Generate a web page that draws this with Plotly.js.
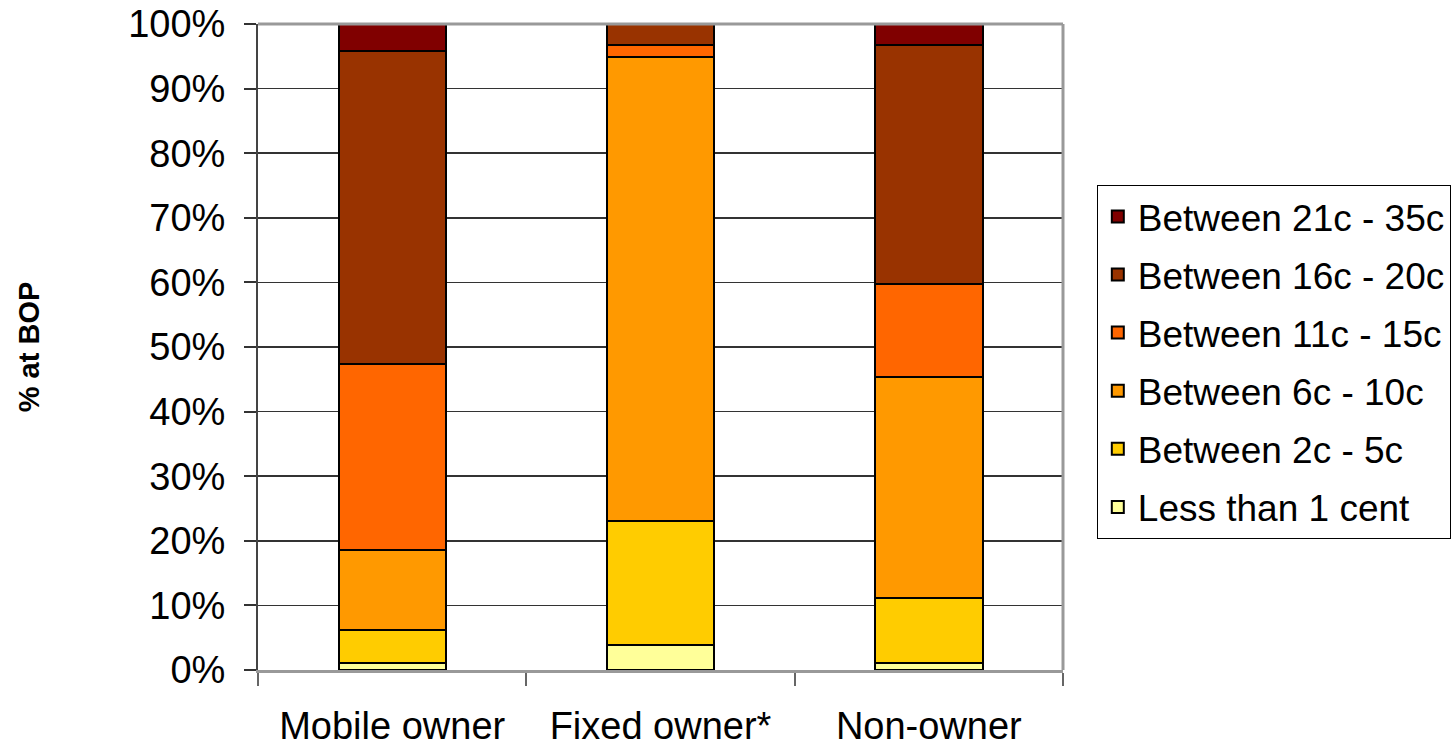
<!DOCTYPE html>
<html>
<head>
<meta charset="utf-8">
<script src="https://cdn.plot.ly/plotly-3.0.1.min.js"></script>
<style>html,body{margin:0;padding:0;background:#fff;}#chart{width:1456px;height:748px;}</style>
</head>
<body>
<div id="chart"></div>
<script>
const categories = ["Mobile owner", "Fixed owner*", "Non-owner"];
const seriesNames = ["Less than 1 cent", "Between 2c - 5c", "Between 6c - 10c", "Between 11c - 15c", "Between 16c - 20c", "Between 21c - 35c"];
const lessThan1 = [1.1, 3.8, 1.1];
const between2to5 = [5.1, 19.3, 10.1];
const between6to10 = [12.4, 71.8, 34.1];
const between11to15 = [28.7, 1.9, 14.4];
const between16to20 = [48.5, 3.2, 37.1];
const between21to35 = [4.2, 0, 3.2];
const seriesColors = ["#FFFF99", "#FFCC00", "#FF9900", "#FF6600", "#993300", "#800000"];
const yTickVals = [0,10,20,30,40,50,60,70,80,90,100];
const yTickText = ["0%","10%","20%","30%","40%","50%","60%","70%","80%","90%","100%"];

const seriesValues = [lessThan1, between2to5, between6to10, between11to15, between16to20, between21to35];
const traces = seriesValues.map((vals, i) => ({
  type: 'bar',
  name: seriesNames[i],
  x: categories,
  y: vals,
  legendgroup: 'g' + i,
  legendrank: 1000 - i * 100,
  marker: {color: seriesColors[i], line: {color: '#000', width: 2}},
  hoverinfo: 'skip'
}));

const font = "Liberation Sans, Arial, sans-serif";
const layout = {
  width: 1456, height: 748,
  margin: {l: 258, r: 393, t: 24, b: 78, autoexpand: false},
  barmode: 'stack',
  bargap: 0.6,
  paper_bgcolor: '#fff',
  plot_bgcolor: '#fff',
  showlegend: true,
  font: {family: font, color: '#000', size: 38},
  legend: {
    x: 1.042, xanchor: 'left', y: 0.751, yanchor: 'top',
    traceorder: 'grouped',
    tracegroupgap: 7,
    font: {family: font, size: 37, color: '#000'},
    bordercolor: '#000', borderwidth: 1, bgcolor: '#fff'
  },
  xaxis: {
    type: 'category',
    tickson: 'boundaries',
    ticks: 'outside', ticklen: 13, tickcolor: '#666', tickwidth: 2,
    ticklabelstandoff: 20,
    showline: true, linecolor: '#999', linewidth: 3,
    showgrid: false, zeroline: false,
    tickfont: {family: font, size: 38, color: '#000'},
    automargin: false
  },
  yaxis: {
    range: [0, 100],
    tickvals: yTickVals, ticktext: yTickText,
    ticks: 'outside', ticklen: 12, tickcolor: '#333', tickwidth: 2,
    ticklabelstandoff: 11,
    showline: true, linecolor: '#444', linewidth: 2,
    showgrid: true, gridcolor: '#333', gridwidth: 1.5,
    zeroline: false,
    tickfont: {family: font, size: 38, color: '#000'},
    title: {text: '% at BOP', standoff: 80, font: {family: font, size: 29, color: '#000', weight: 'bold'}},
    automargin: false
  },
  shapes: [
    {type: 'line', xref: 'paper', yref: 'paper', x0: 0, x1: 1, y0: 1, y1: 1, line: {color: '#999', width: 3}, layer: 'above'},
    {type: 'line', xref: 'paper', yref: 'paper', x0: 1, x1: 1, y0: 0, y1: 1, line: {color: '#999', width: 3}, layer: 'above'}
  ]
};

Plotly.newPlot('chart', traces, layout, {displayModeBar: false, staticPlot: true});
</script>
</body>
</html>
